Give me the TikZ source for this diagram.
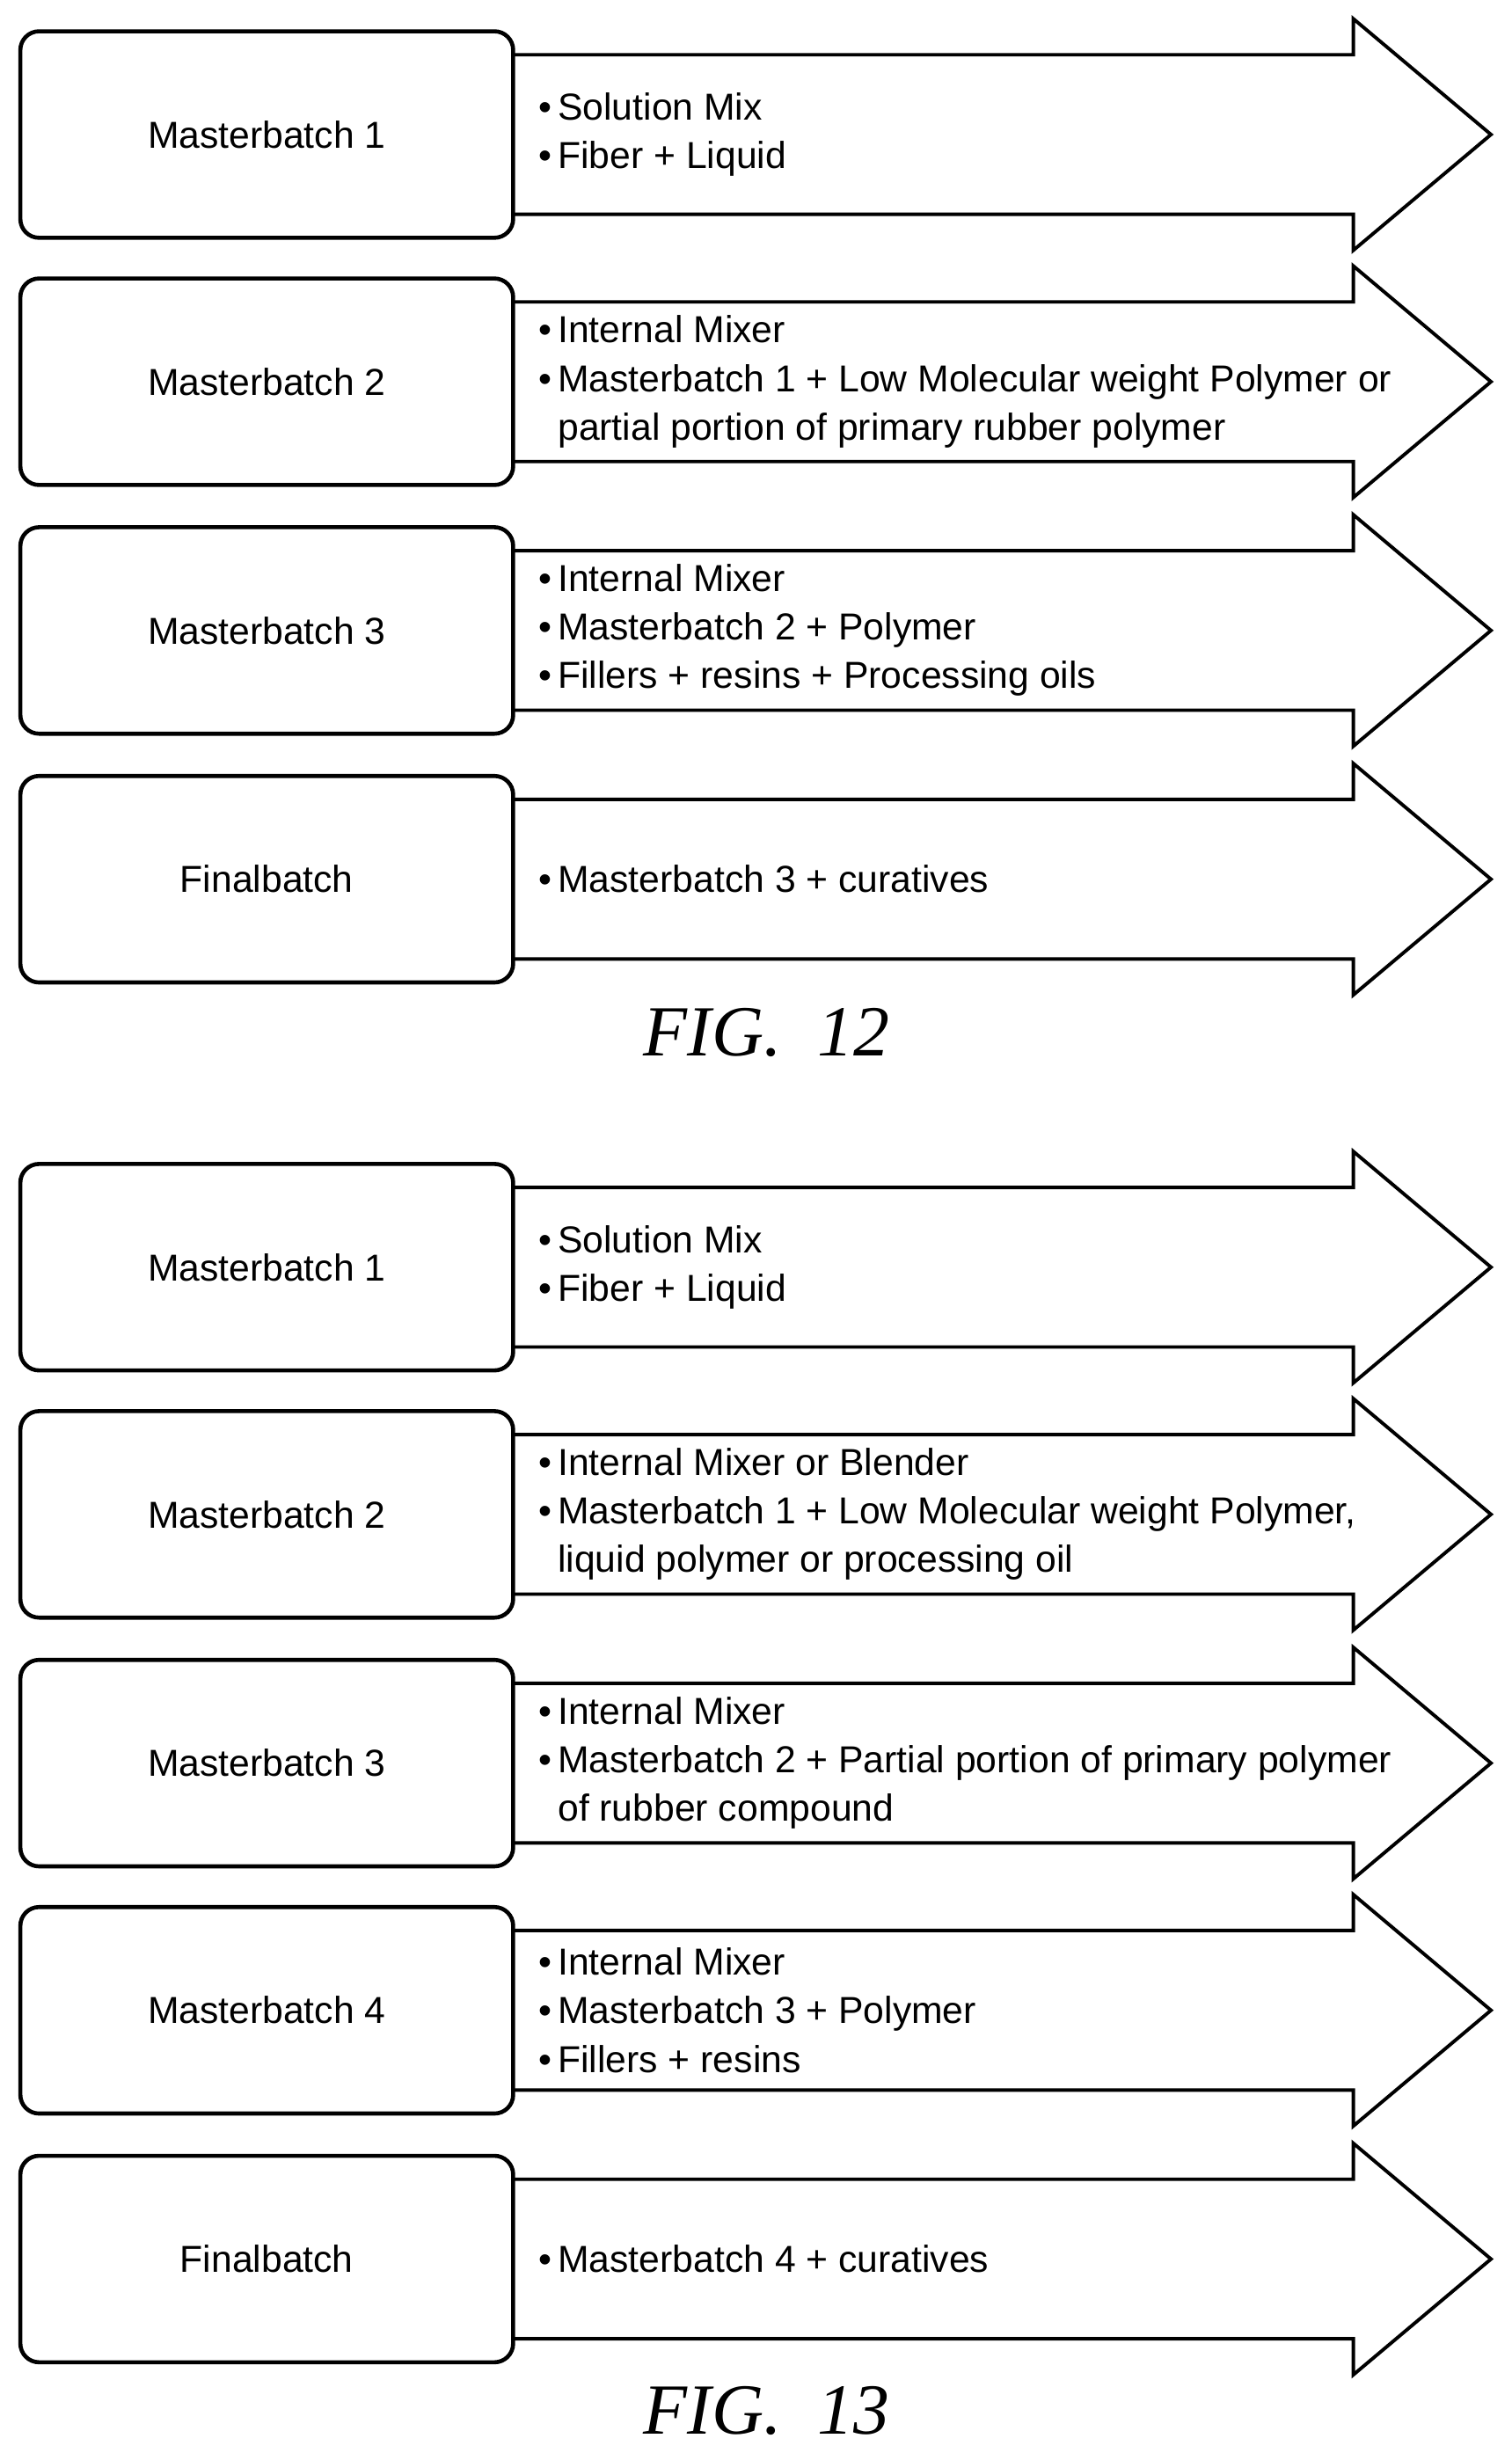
\documentclass[tikz,border=0pt]{standalone}
\usepackage{fontspec}
\setmainfont{Liberation Sans}
\newfontfamily\capfont{Liberation Serif}
\begin{document}
\begin{tikzpicture}[x=1pt,y=-1pt,
  box/.style={draw,line width=2.6pt,rounded corners=12pt,fill=white},
  arr/.style={draw,line width=2.2pt,line join=miter},
  lab/.style={font=\fontsize{24}{28}\selectfont},
  txt/.style={anchor=west,align=left,inner sep=0pt,font=\fontsize{24}{31}\selectfont},
  figcap/.style={font=\capfont\itshape\fontsize{46}{50}\selectfont}]
\useasboundingbox (0,0) rectangle (966,1568);
\newcommand{\stagerow}[4]{%
  \draw[arr] (328,#1-51) -- (865,#1-51) -- (865,#1-74) -- (953,#1) -- (865,#1+74) -- (865,#1+51) -- (328,#1+51);
  \node[box,minimum width=315pt,minimum height=132pt] (b#4) at (170.5,#1) {};
  \node[lab] (l#4) at (170.5,#1) {#2};
  \node[txt] (t#4) at (344,#1) {#3};}
\newcommand{\bl}{\textbullet\,}
\newcommand{\ind}{\phantom{\textbullet\,}}
\stagerow{86}{Masterbatch 1}{\bl Solution Mix\\\bl Fiber + Liquid}{a1}
\stagerow{244}{Masterbatch 2}{\bl Internal Mixer\\\bl Masterbatch 1 + Low Molecular weight Polymer or\\\ind partial portion of primary rubber polymer}{a2}
\stagerow{403}{Masterbatch 3}{\bl Internal Mixer\\\bl Masterbatch 2 + Polymer\\\bl Fillers + resins + Processing oils}{a3}
\stagerow{562}{Finalbatch}{\bl Masterbatch 3 + curatives}{a4}
\node[figcap] (f12) at (490,660) {FIG.\ \ 12};
\stagerow{810}{Masterbatch 1}{\bl Solution Mix\\\bl Fiber + Liquid}{c1}
\stagerow{968}{Masterbatch 2}{\bl Internal Mixer or Blender\\\bl Masterbatch 1 + Low Molecular weight Polymer,\\\ind liquid polymer or processing oil}{c2}
\stagerow{1127}{Masterbatch 3}{\bl Internal Mixer\\\bl Masterbatch 2 + Partial portion of primary polymer\\\ind of rubber compound}{c3}
\stagerow{1285}{Masterbatch 4}{\bl Internal Mixer\\\bl Masterbatch 3 + Polymer\\\bl Fillers + resins}{c4}
\stagerow{1444}{Finalbatch}{\bl Masterbatch 4 + curatives}{c5}
\node[figcap] (f13) at (490,1541) {FIG.\ \ 13};
\end{tikzpicture}
\end{document}
